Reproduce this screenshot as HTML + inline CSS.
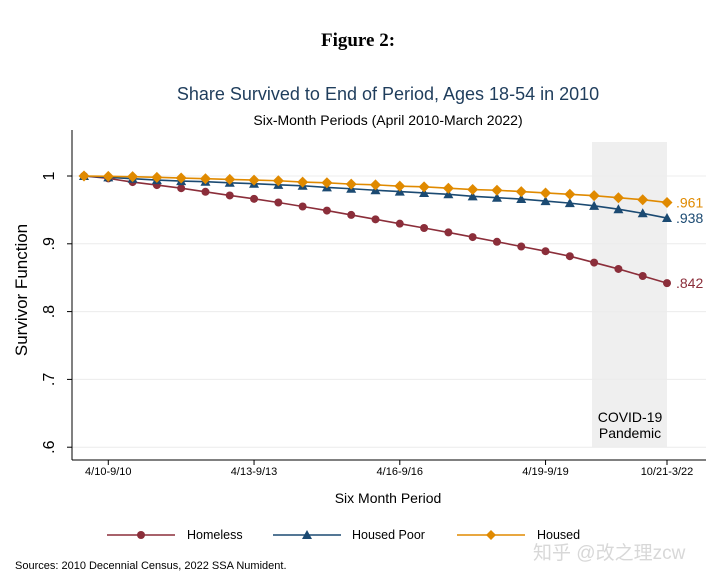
<!DOCTYPE html>
<html><head><meta charset="utf-8"><style>
body{margin:0;background:#fff;width:720px;height:582px;overflow:hidden}
svg{display:block;font-family:"Liberation Sans",Arial,sans-serif}
</style></head><body>
<svg id="chart" width="720" height="582" viewBox="0 0 720 582">
<text x="358" y="46" text-anchor="middle" font-family="Liberation Serif,serif" font-weight="bold" font-size="19">Figure 2:</text>
<text x="388" y="100" text-anchor="middle" font-size="18" fill="#1f3d5c">Share Survived to End of Period, Ages 18-54 in 2010</text>
<text x="388" y="125" text-anchor="middle" font-size="14" fill="#000">Six-Month Periods (April 2010-March 2022)</text>
<rect x="592" y="142" width="75" height="305" fill="#efefef"/>
<text x="630" y="422" text-anchor="middle" font-size="14">COVID-19</text>
<text x="630" y="438" text-anchor="middle" font-size="14">Pandemic</text>
<g id="grid"></g>
<line x1="72" y1="130" x2="72" y2="460" stroke="#000" stroke-width="1"/>
<line x1="72" y1="460" x2="706" y2="460" stroke="#000" stroke-width="1"/>
<g id="xticks"></g>
<g id="series"></g>
<text x="27" y="290" transform="rotate(-90 27 290)" text-anchor="middle" font-size="17">Survivor Function</text>
<text x="388" y="503" text-anchor="middle" font-size="14">Six Month Period</text>
<g>
<g>
<line x1="107" y1="535" x2="175" y2="535" stroke="#8b2e3a" stroke-width="1.6"/><circle cx="141" cy="535" r="4" fill="#8b2e3a"/>
<text x="187" y="539" font-size="12.5">Homeless</text></g>
<g>
<line x1="273" y1="535" x2="341" y2="535" stroke="#1b4a72" stroke-width="1.6"/><path d="M307 530 L312 539 L302 539Z" fill="#1b4a72"/>
<text x="352" y="539" font-size="12.5">Housed Poor</text></g>
<g>
<line x1="457" y1="535" x2="525" y2="535" stroke="#e08a00" stroke-width="1.6"/><path d="M491 530 L496 535 L491 540 L486 535Z" fill="#e08a00"/>
<text x="537" y="539" font-size="12.5">Housed</text></g>
</g>
<text x="15" y="569" font-size="11">Sources: 2010 Decennial Census, 2022 SSA Numident.</text>
<text x="533" y="559" font-size="19" fill="#d8d8d8" font-family="Liberation Sans,'Noto Sans CJK SC',sans-serif">知乎 @改之理zcw</text>
</svg>
<script>
const yTicks=[1,0.9,0.8,0.7,0.6];
const yTickLabels=["1",".9",".8",".7",".6"];
const xTickIdx=[1,7,13,19,24];
const xTickLabels=["4/10-9/10","4/13-9/13","4/16-9/16","4/19-9/19","10/21-3/22"];
const homeless=[1,.9965,.991,.9866,.982,.9767,.9713,.9663,.9609,.955,.949,.9426,.9361,.9297,.9233,.9168,.9099,.903,.896,.8891,.8817,.8723,.8629,.8525,.842];
const housedPoor=[1,.998,.996,.994,.9925,.9916,.990,.9886,.987,.9856,.9832,.9812,.979,.977,.975,.973,.970,.968,.966,.963,.960,.956,.951,.945,.938];
const housed=[1,.9995,.999,.998,.997,.996,.995,.994,.993,.991,.990,.988,.987,.985,.984,.982,.980,.979,.977,.975,.973,.971,.968,.965,.961];
const endLabels=[".842",".938",".961"];
const NS="http://www.w3.org/2000/svg";
function X(i){return 84+i*(667-84)/24;}
function Y(v){return 176+(1-v)*678;}
function mk(t,a,p){const e=document.createElementNS(NS,t);for(const k in a)e.setAttribute(k,a[k]);p.appendChild(e);return e;}
const grid=document.getElementById('grid');
yTicks.forEach((v,i)=>{
  const g=mk('line',{x1:72,x2:706,y1:Y(v),y2:Y(v),stroke:'#ececec','stroke-width':1},grid);
  
  
  const t=mk('line',{x1:67,x2:72,y1:Y(v),y2:Y(v),stroke:'#000'},grid);
  
  
  const lb=mk('text',{x:54,y:Y(v),'text-anchor':'middle','font-size':16,transform:`rotate(-90 54 ${Y(v)})`},grid);
  lb.textContent=yTickLabels[i];
  
  
});
const xt=document.getElementById('xticks');
xTickIdx.forEach((idx,i)=>{
  const t=mk('line',{x1:X(idx),x2:X(idx),y1:460,y2:465,stroke:'#000'},xt);
  
  
  const lb=mk('text',{x:X(idx),y:475,'text-anchor':'middle','font-size':11},xt);
  lb.textContent=xTickLabels[i];
  
  
});
const sg=document.getElementById('series');
const defs=[[homeless,'#8b2e3a','c','homeless'],[housedPoor,'#1b4a72','t','housed-poor'],[housed,'#e08a00','d','housed']];
defs.forEach(([d,c,m,n],si)=>{
  const g=mk('g',{},sg);
  
  
  const p=mk('polyline',{points:d.map((v,i)=>X(i)+','+Y(v)).join(' '),fill:'none',stroke:c,'stroke-width':1.6},g);
  
  
  d.forEach((v,i)=>{
    const x=X(i),y=Y(v);let e;
    if(m==='c')e=mk('circle',{cx:x,cy:y,r:4,fill:c},g);
    else if(m==='t')e=mk('path',{d:`M${x} ${y-5}L${x+5} ${y+4}L${x-5} ${y+4}Z`,fill:c},g);
    else e=mk('path',{d:`M${x} ${y-5.5}L${x+5.5} ${y}L${x} ${y+5.5}L${x-5.5} ${y}Z`,fill:c},g);
    
    
  });
  const last=d[d.length-1];
  const lb=mk('text',{x:676,y:Y(last)+5,'font-size':14,fill:c},g);
  lb.textContent=endLabels[si];
  
  
});
</script>
</body></html>
